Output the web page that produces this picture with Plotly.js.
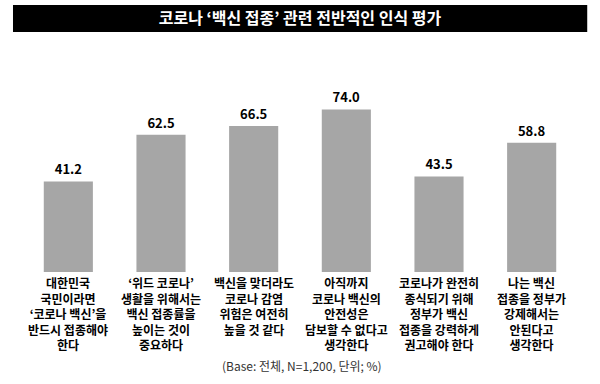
<!DOCTYPE html>
<html>
<head>
<meta charset="utf-8">
<script src="https://cdn.plot.ly/plotly-3.0.1.min.js"></script>
<style>html,body{margin:0;padding:0;background:#fff;}#chart{width:600px;height:384px;}</style>
</head>
<body>
<div id="chart"></div>
<script>
const chartTitle = "코로나 ‘백신 접종’ 관련 전반적인 인식 평가";
const categories = [
  "대한민국<br>국민이라면<br>‘코로나 백신’을<br>반드시 접종해야<br>한다",
  "‘위드 코로나’<br>생활을 위해서는<br>백신 접종률을<br>높이는 것이<br>중요하다",
  "백신을 맞더라도<br>코로나 감염<br>위험은 여전히<br>높을 것 같다",
  "아직까지<br>코로나 백신의<br>안전성은<br>담보할 수 없다고<br>생각한다",
  "코로나가 완전히<br>종식되기 위해<br>정부가 백신<br>접종을 강력하게<br>권고해야 한다",
  "나는 백신<br>접종을 정부가<br>강제해서는<br>안된다고<br>생각한다"
];
const values = [41.2, 62.5, 66.5, 74.0, 43.5, 58.8];
const footnote = "(Base: 전체, N=1,200, 단위; %)";

const FONT = "'Noto Sans CJK KR', 'Noto Sans', sans-serif";

const trace = {
  type: 'bar',
  x: categories,
  y: values,
  marker: {color: '#a6a6a6'},
  text: values.map(v => v.toFixed(1)),
  textposition: 'outside',
  cliponaxis: false,
  textfont: {family: FONT, size: 13, color: '#000', weight: 'bold'},
  hoverinfo: 'none'
};

const annotations = categories.map(cat => ({
  xref: 'x', yref: 'paper', x: cat, y: 0,
  yanchor: 'top', xanchor: 'center', yshift: -1,
  borderpad: 0,
  text: cat, showarrow: false, align: 'center',
  font: {family: FONT, size: 12, color: '#000', weight: 'bold'}
}));
annotations.push({
  xref: 'paper', yref: 'paper', x: 0.5038, y: -0.4387,
  xanchor: 'center', yanchor: 'middle',
  text: footnote, showarrow: false,
  font: {family: FONT, size: 12, color: '#333'}
});

const layout = {
  width: 600, height: 384,
  margin: {l: 22, r: 22, t: 60, b: 112},
  paper_bgcolor: '#fff', plot_bgcolor: '#fff',
  showlegend: false,
  bargap: 0.47,
  title: {
    text: chartTitle,
    font: {family: FONT, size: 16, color: '#fff', weight: 'bold'},
    x: 0.5, xref: 'container', y: 1 - 18.5 / 384, yref: 'container', yanchor: 'middle'
  },
  xaxis: {showticklabels: false, showline: false, showgrid: false, zeroline: false, ticks: ''},
  yaxis: {range: [0, 96.5], visible: false, showgrid: false, zeroline: false},
  shapes: [{
    type: 'rect', xref: 'paper', yref: 'paper',
    x0: -0.0162, x1: 1.0166, y0: 1.1321, y1: 1.2594,
    fillcolor: '#000', line: {width: 0}, layer: 'below'
  }],
  annotations: annotations
};

Plotly.newPlot('chart', [trace], layout, {displayModeBar: false, staticPlot: true});
</script>
</body>
</html>
